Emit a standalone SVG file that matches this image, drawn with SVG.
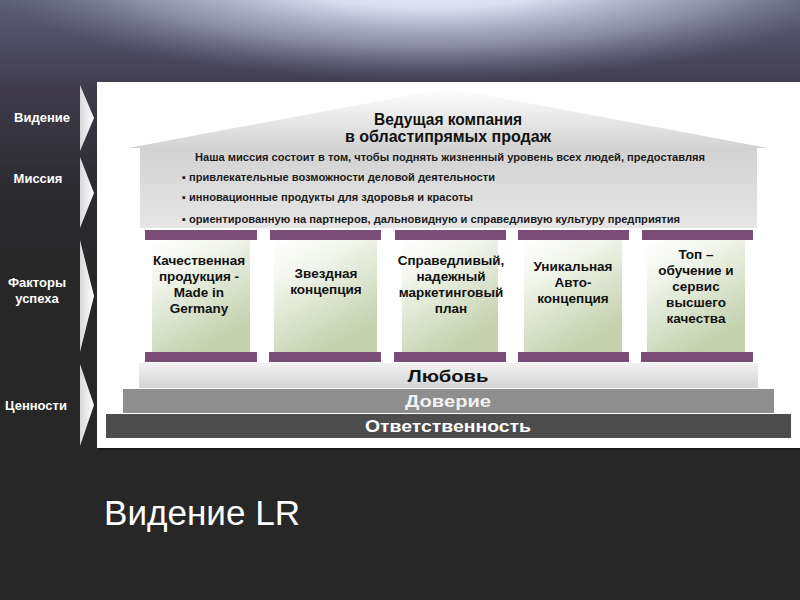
<svg xmlns="http://www.w3.org/2000/svg" width="800" height="600" viewBox="0 0 800 600">
<defs>
<linearGradient id="bgTop" x1="0" y1="0" x2="0" y2="1">
<stop offset="0" stop-color="#5c5e76"/>
<stop offset="0.3" stop-color="#3f3b4b"/>
<stop offset="0.65" stop-color="#2b2a2e"/>
<stop offset="1" stop-color="#272727"/>
</linearGradient>
<radialGradient id="glow" cx="0.5" cy="0.25" r="0.5">
<stop offset="0" stop-color="#f3f5ff"/>
<stop offset="0.35" stop-color="#e2e5f4" stop-opacity="0.95"/>
<stop offset="0.7" stop-color="#a8abc4" stop-opacity="0.65"/>
<stop offset="1" stop-color="#8084a0" stop-opacity="0"/>
</radialGradient>
<linearGradient id="chev" x1="0" y1="0" x2="1" y2="0">
<stop offset="0" stop-color="#d8d8dc"/>
<stop offset="1" stop-color="#ffffff"/>
</linearGradient>
<linearGradient id="house" x1="0" y1="88" x2="0" y2="228" gradientUnits="userSpaceOnUse">
<stop offset="0" stop-color="#ffffff"/>
<stop offset="0.43" stop-color="#d2d2d2"/>
<stop offset="1" stop-color="#e6e6e6"/>
</linearGradient>
<linearGradient id="col" x1="0" y1="0" x2="0.5" y2="1">
<stop offset="0" stop-color="#ffffff"/>
<stop offset="0.3" stop-color="#f3f6ee"/>
<stop offset="1" stop-color="#c3d1ac"/>
</linearGradient>
<linearGradient id="love" x1="0" y1="0" x2="0" y2="1">
<stop offset="0" stop-color="#f2f2f2"/>
<stop offset="1" stop-color="#d4d4d4"/>
</linearGradient>
<style>
.lbl{font-family:"Liberation Sans",Arial,sans-serif;font-weight:bold;font-size:13px;fill:#ffffff;text-anchor:middle}
.cap{fill:#7a4c78}
.colr{fill:url(#col)}
.ct{font-family:"Liberation Sans",Arial,sans-serif;font-weight:bold;font-size:13.5px;fill:#111111;text-anchor:middle}
.ttl{font-family:"Liberation Sans",Arial,sans-serif;font-weight:bold;font-size:16px;fill:#111111;text-anchor:middle}
.ms{font-family:"Liberation Sans",Arial,sans-serif;font-weight:bold;font-size:11px;fill:#1a1a1a}
.base{font-family:"Liberation Sans",Arial,sans-serif;font-weight:bold;font-size:17px;text-anchor:middle}
</style>
</defs>

<g id="background">
<rect x="0" y="0" width="800" height="600" fill="#272727"/>
<rect x="0" y="0" width="800" height="300" fill="url(#bgTop)"/>
<ellipse cx="430" cy="25" rx="450" ry="110" fill="url(#glow)"/>
<rect x="99" y="84" width="703" height="366" fill="#000000" opacity="0.35"/>
<rect x="97" y="82" width="703" height="366" fill="#ffffff"/>
</g>

<g id="arrows">
<polygon points="80,85 94,118 80,151" fill="url(#chev)"/>
<polygon points="80,157 94,193 80,228" fill="url(#chev)"/>
<polygon points="80,240 94,296 80,352" fill="url(#chev)"/>
<polygon points="80,364 94,405 80,446" fill="url(#chev)"/>
</g>

<g id="label-vision"><text class="lbl" x="42" y="122">Видение</text></g>
<g id="label-mission"><text class="lbl" x="38" y="183">Миссия</text></g>
<g id="label-factors"><text class="lbl" x="37" y="287">Факторы</text><text class="lbl" x="37" y="303">успеха</text></g>
<g id="label-values"><text class="lbl" x="36" y="410">Ценности</text></g>

<g id="roof">
<path d="M128,148 L448,88 L768,148 L757,148 L757,228 L140,228 L140,148 Z" fill="url(#house)"/>
<text class="ttl" x="448" y="125" textLength="148" lengthAdjust="spacingAndGlyphs">Ведущая компания</text>
<text class="ttl" x="448" y="142" textLength="206" lengthAdjust="spacingAndGlyphs">в областипрямых продаж</text>
<text class="ms" x="195" y="161" textLength="510" lengthAdjust="spacingAndGlyphs">Наша миссия состоит в том, чтобы поднять жизненный уровень всех людей, предоставляя</text>
<text class="ms" x="182" y="181" textLength="313" lengthAdjust="spacingAndGlyphs">▪ привлекательные возможности деловой деятельности</text>
<text class="ms" x="182" y="201" textLength="291" lengthAdjust="spacingAndGlyphs">▪ инновационные продукты для здоровья и красоты</text>
<text class="ms" x="182" y="223" textLength="498" lengthAdjust="spacingAndGlyphs">▪ ориентированную на партнеров, дальновидную и справедливую культуру предприятия</text>
</g>

<g id="pillar-1">
<rect class="cap" x="145" y="230" width="112" height="10"/>
<rect class="colr" x="152" y="240" width="98" height="112"/>
<rect class="cap" x="145" y="352" width="112" height="10"/>
<text class="ct" x="199" y="265">Качественная</text>
<text class="ct" x="199" y="281">продукция -</text>
<text class="ct" x="199" y="297">Made in</text>
<text class="ct" x="199" y="313">Germany</text>
</g>

<g id="pillar-2">
<rect class="cap" x="270" y="230" width="111" height="10"/>
<rect class="colr" x="274" y="240" width="103" height="112"/>
<rect class="cap" x="269" y="352" width="112" height="10"/>
<text class="ct" x="326" y="278">Звездная</text>
<text class="ct" x="326" y="294">концепция</text>
</g>

<g id="pillar-3">
<rect class="cap" x="395" y="230" width="111" height="10"/>
<rect class="colr" x="402" y="240" width="96" height="112"/>
<rect class="cap" x="394" y="352" width="112" height="10"/>
<text class="ct" x="451" y="265">Справедливый,</text>
<text class="ct" x="451" y="281">надежный</text>
<text class="ct" x="451" y="297">маркетинговый</text>
<text class="ct" x="451" y="313">план</text>
</g>

<g id="pillar-4">
<rect class="cap" x="518" y="230" width="111" height="10"/>
<rect class="colr" x="524" y="240" width="98" height="112"/>
<rect class="cap" x="518" y="352" width="111" height="10"/>
<text class="ct" x="573" y="271">Уникальная</text>
<text class="ct" x="573" y="287">Авто-</text>
<text class="ct" x="573" y="303">концепция</text>
</g>

<g id="pillar-5">
<rect class="cap" x="642" y="230" width="111" height="10"/>
<rect class="colr" x="647" y="240" width="98" height="112"/>
<rect class="cap" x="641" y="352" width="112" height="10"/>
<text class="ct" x="696" y="259">Топ –</text>
<text class="ct" x="696" y="275">обучение и</text>
<text class="ct" x="696" y="291">сервис</text>
<text class="ct" x="696" y="307">высшего</text>
<text class="ct" x="696" y="323">качества</text>
</g>

<g id="value-love">
<rect x="139" y="363" width="619" height="25" fill="url(#love)"/>
<text class="base" x="448" y="382" fill="#111111" textLength="81" lengthAdjust="spacingAndGlyphs">Любовь</text>
</g>
<g id="value-trust">
<rect x="123" y="389" width="651" height="24" fill="#8e8e8e"/>
<text class="base" x="448" y="407" fill="#f2f2f2" textLength="86" lengthAdjust="spacingAndGlyphs">Доверие</text>
</g>
<g id="value-responsibility">
<rect x="106" y="414" width="685" height="24" fill="#4d4d4d"/>
<text class="base" x="448" y="432" fill="#ffffff" textLength="166" lengthAdjust="spacingAndGlyphs">Ответственность</text>
</g>

<g id="title">
<text x="104" y="525" font-family="Liberation Sans, Arial, sans-serif" font-size="35" fill="#ffffff" textLength="196" lengthAdjust="spacingAndGlyphs">Видение LR</text>
</g>
</svg>
